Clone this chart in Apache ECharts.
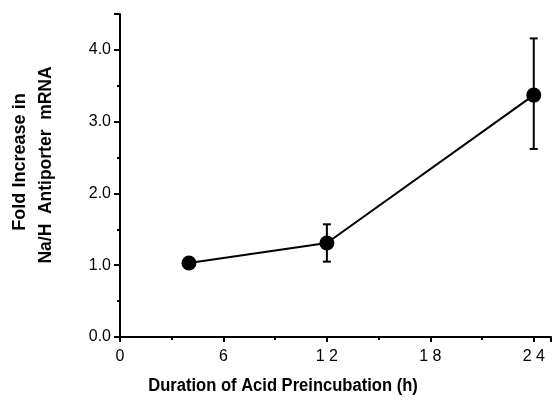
<!DOCTYPE html>
<html>
<head>
<meta charset="utf-8">
<script src="https://cdn.jsdelivr.net/npm/echarts@6/dist/echarts.min.js"></script>
<style>html,body{margin:0;padding:0;background:#fff}#c{width:554px;height:406px}</style>
</head>
<body>
<div id="c"></div>
<script>
const hours = [4, 12, 24];
const foldIncrease = [1.03, 1.31, 3.37];
const errLow = [null, 1.05, 2.62];
const errHigh = [null, 1.57, 4.16];
const xTicks = [0, 6, 12, 18, 24];
const yTicks = [0, 1, 2, 3, 4];
const xTitle = 'Duration of Acid Preincubation (h)';
const yTitleLines = ['Fold Increase in', 'Na/H  Antiporter  mRNA'];

const chart = echarts.init(document.getElementById('c'));
const titleFont = "'Liberation Sans', Arial, Helvetica, sans-serif";
const labelFont = "'Liberation Sans', Arial, Helvetica, sans-serif";

const errData = hours.map((h, i) => [h, errLow[i], errHigh[i]]).filter(d => d[1] != null);

chart.setOption({
  animation: false,
  backgroundColor: '#fff',
  grid: { left: 120, right: 1, top: 14, bottom: 69, containLabel: false },
  xAxis: {
    type: 'value', min: 0, max: 25, interval: 6,
    axisLine: { lineStyle: { color: '#000', width: 2 } },
    axisTick: { show: true, length: 5, lineStyle: { color: '#000', width: 2 } },
    minorTick: { show: true, splitNumber: 2, length: 3, lineStyle: { color: '#000', width: 2 } },
    splitLine: { show: false },
    axisLabel: {
      color: '#000', fontSize: 16, fontFamily: labelFont, margin: 12,
      formatter: v => xTicks.includes(v) ? String(v).split('').join(' ') : ''
    }
  },
  yAxis: {
    type: 'value', min: 0, max: 4.5, interval: 1,
    axisLine: { show: true, lineStyle: { color: '#000', width: 2 } },
    axisTick: { show: true, length: 6, lineStyle: { color: '#000', width: 2 } },
    minorTick: { show: true, splitNumber: 2, length: 3, lineStyle: { color: '#000', width: 2 } },
    splitLine: { show: false },
    axisLabel: {
      color: '#000', fontSize: 16, fontFamily: labelFont, margin: 9,
      formatter: v => yTicks.includes(v) ? v.toFixed(1) : ''
    }
  },
  graphic: [
    {
      type: 'text', x: 283, y: 386, scaleX: 0.92,
      style: { text: xTitle, font: "bold 18px " + titleFont, fill: '#000', textAlign: 'center', textVerticalAlign: 'middle' }
    },
    {
      type: 'text', x: 20, y: 162, rotation: Math.PI / 2, scaleX: 0.95,
      style: { text: yTitleLines[0], font: "bold 19px " + titleFont, fill: '#000', textAlign: 'center', textVerticalAlign: 'middle' }
    },
    {
      type: 'text', x: 46, y: 165, rotation: Math.PI / 2, scaleX: 0.92,
      style: { text: yTitleLines[1], font: "bold 19px " + titleFont, fill: '#000', textAlign: 'center', textVerticalAlign: 'middle' }
    }
  ],
  series: [
    {
      type: 'custom',
      renderItem: function (params, api) {
        const x = api.value(0);
        const lo = api.coord([x, api.value(1)]);
        const hi = api.coord([x, api.value(2)]);
        const cap = 4;
        const st = { stroke: '#000', lineWidth: 2 };
        return {
          type: 'group',
          children: [
            { type: 'line', shape: { x1: lo[0], y1: lo[1], x2: hi[0], y2: hi[1] }, style: st },
            { type: 'line', shape: { x1: lo[0] - cap, y1: lo[1], x2: lo[0] + cap, y2: lo[1] }, style: st },
            { type: 'line', shape: { x1: hi[0] - cap, y1: hi[1], x2: hi[0] + cap, y2: hi[1] }, style: st }
          ]
        };
      },
      encode: { x: 0, y: [1, 2] },
      data: errData,
      z: 1
    },
    {
      type: 'line',
      data: hours.map((h, i) => [h, foldIncrease[i]]),
      symbol: 'circle', symbolSize: 15,
      itemStyle: { color: '#000' },
      lineStyle: { color: '#000', width: 2 },
      z: 2
    }
  ]
});
</script>
</body>
</html>
